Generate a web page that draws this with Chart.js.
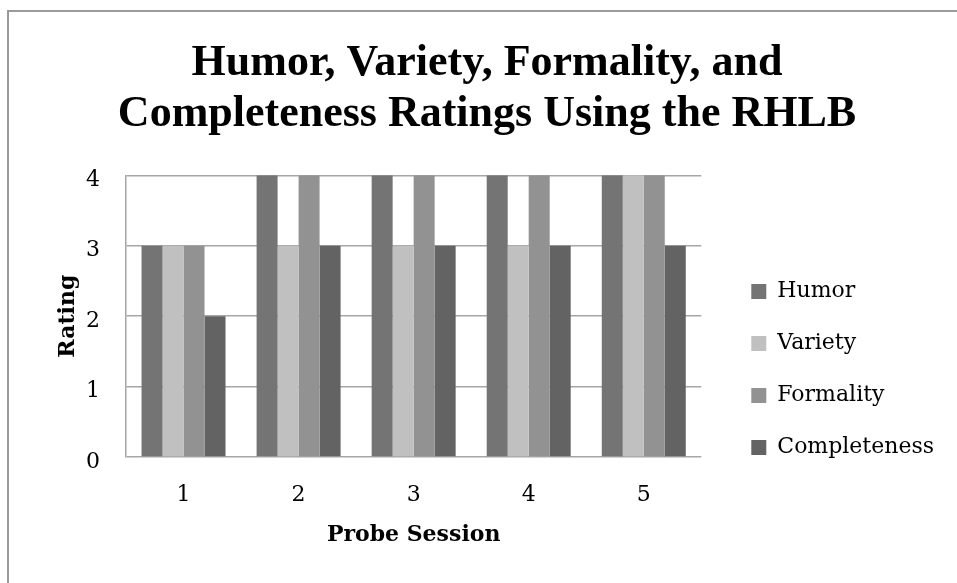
<!DOCTYPE html>
<html>
<head>
<meta charset="utf-8">
<script src="https://cdn.jsdelivr.net/npm/chart.js@4.4.0/dist/chart.umd.min.js"></script>
<style>
  html, body { margin: 0; padding: 0; background: #fff; overflow: hidden; }
  #frame {
    position: absolute; left: 7px; top: 10px;
    width: 960px; height: 600px;
    border: 2px solid #9a9a9a;
  }
  #wrap { position: absolute; left: 0; top: 0; width: 960px; height: 571px; }
</style>
</head>
<body>
<div id="frame">
  <div id="wrap"><canvas id="ratingChart"></canvas></div>
</div>
<script>
// Probe session ratings (RHLB)
const sessions = ['1', '2', '3', '4', '5'];
const humor = [3, 4, 4, 4, 4];
const variety = [3, 3, 3, 3, 4];
const formality = [3, 4, 4, 4, 4];
const completeness = [2, 3, 3, 3, 3];

const seriesNames = ['Humor', 'Variety', 'Formality', 'Completeness'];
const seriesColors = ['#747474', '#c0c0c0', '#929292', '#636363'];

const titleLines = ['Humor, Variety, Formality, and', 'Completeness Ratings Using the RHLB'];
const yTitle = 'Rating';
const xTitle = 'Probe Session';

const serif = 'DejaVu Serif';
const gridColor = '#a6a6a6';

const ctx = document.getElementById('ratingChart').getContext('2d');
const allData = [humor, variety, formality, completeness];

new Chart(ctx, {
  type: 'bar',
  data: {
    labels: sessions,
    datasets: allData.map((d, i) => ({
      label: seriesNames[i],
      data: d,
      backgroundColor: seriesColors[i],
      borderWidth: 0,
      categoryPercentage: 0.73,
      barPercentage: 1.0
    }))
  },
  options: {
    responsive: true,
    maintainAspectRatio: false,
    animation: false,
    layout: { padding: { left: 21, right: 25, top: 0, bottom: 35 } },
    plugins: {
      title: {
        display: true,
        text: titleLines,
        color: '#000',
        font: { family: 'Liberation Serif', size: 44, weight: 'bold', lineHeight: 1.14 },
        padding: { top: 27, bottom: 36 }
      },
      legend: {
        position: 'right',
        // empty title just pushes the items down like Excel does
        title: { display: true, text: '', font: { size: 1 }, padding: { top: 178, bottom: 0 } },
        labels: {
          color: '#000',
          font: { family: serif, size: 22 },
          boxWidth: 15,
          boxHeight: 15,
          padding: 30
        }
      },
      tooltip: { enabled: false }
    },
    scales: {
      x: {
        grid: { display: false, drawTicks: false },
        border: { display: false },
        ticks: { color: '#000', font: { family: serif, size: 22 }, padding: 25 },
        title: {
          display: true,
          text: xTitle,
          color: '#000',
          font: { family: serif, size: 22, weight: 'bold' },
          padding: { top: 0, bottom: 0 }
        },
        afterFit: (s) => { s.height = 91; }
      },
      y: {
        min: 0,
        max: 4,
        grid: { color: gridColor, lineWidth: 1.5, drawTicks: false },
        border: { display: true, color: gridColor, width: 1.5 },
        ticks: { stepSize: 1, color: '#000', font: { family: serif, size: 22 }, padding: 26, labelOffset: 5 },
        title: {
          display: true,
          text: yTitle,
          color: '#000',
          font: { family: serif, size: 22, weight: 'bold' },
          padding: { top: 25, bottom: 0 }
        },
        afterFit: (s) => { s.width = 96; }
      },
      // hidden spacer between plot and legend
      gap: {
        position: 'right',
        display: false,
        afterFit: (s) => { s.width = 20; }
      }
    }
  }
});
</script>
</body>
</html>
